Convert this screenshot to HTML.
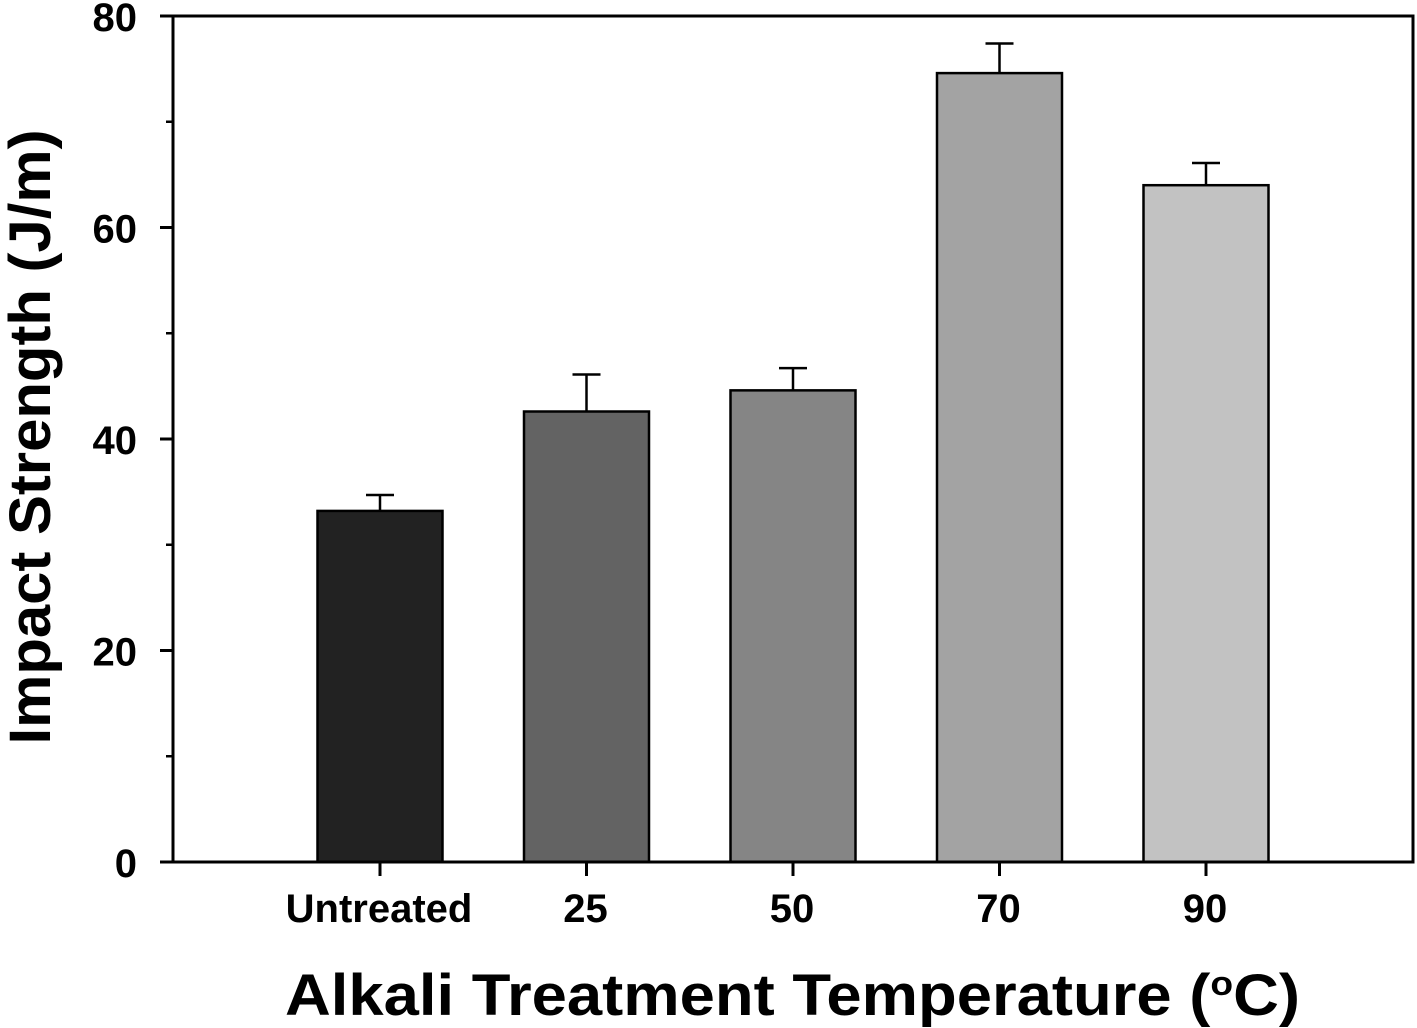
<!DOCTYPE html>
<html><head><meta charset="utf-8"><style>
html,body{margin:0;padding:0;background:#fff;}
svg{display:block;font-family:"Liberation Sans",Arial,sans-serif;font-weight:bold;}
</style></head><body>
<svg id="chart" width="1417" height="1028" viewBox="0 0 1417 1028">
<g id="plot"></g>
<text transform="translate(50,437) rotate(-90)" text-anchor="middle" font-size="58" textLength="615" lengthAdjust="spacingAndGlyphs">Impact Strength (J/m)</text>
<text x="285" y="1015" font-size="58" textLength="1015" lengthAdjust="spacingAndGlyphs">Alkali Treatment Temperature (<tspan font-size="34" dy="-20">o</tspan><tspan dy="20">C)</tspan></text>
</svg>
<script>
const categories = ["Untreated","25","50","70","90"];
const values = [33.2, 42.6, 44.6, 74.6, 64.0];
const errors = [1.5, 3.5, 2.1, 2.8, 2.1];
const colors = ["#222222","#636363","#858585","#a3a3a3","#c2c2c2"];
const yTicks = [0,20,40,60,80];
const yMinor = [10,30,50,70];

const NS="http://www.w3.org/2000/svg";
const g=document.getElementById('plot');
const L=173,R=1413,T=16,B=862,yMax=80;
const y=v=>B-(v/yMax)*(B-T);
const x=i=>380+206.5*i;
const bw=125;
function mk(t,a){const e=document.createElementNS(NS,t);for(const k in a)e.setAttribute(k,a[k]);g.appendChild(e);return e;}

categories.forEach((c,i)=>{
  const cx=x(i), top=y(values[i]), et=y(values[i]+errors[i]);
  const eb=mk('line',{x1:cx,x2:cx,y1:top,y2:et,stroke:'#000','stroke-width':2.5});
  
  
  const cap=mk('line',{x1:cx-14,x2:cx+14,y1:et,y2:et,stroke:'#000','stroke-width':2.5});
  
  
  const r=mk('rect',{x:cx-bw/2,y:top,width:bw,height:B-top,fill:colors[i],stroke:'#000','stroke-width':2.5});
  
  
  const tk=mk('line',{x1:cx,x2:cx,y1:B,y2:B+14,stroke:'#000','stroke-width':3});
  
  
  const lb=mk('text',{x:cx-1,y:922,'text-anchor':'middle','font-size':40});
  lb.textContent=c;
  
  
});
yTicks.forEach(v=>{
  const tk=mk('line',{x1:L-13,x2:L,y1:y(v),y2:y(v),stroke:'#000','stroke-width':3});
  
  
  const lb=mk('text',{x:L-36,y:y(v)+15,'text-anchor':'end','font-size':40});
  lb.textContent=v;
  
  
});
yMinor.forEach(v=>{
  const tk=mk('line',{x1:L-7,x2:L,y1:y(v),y2:y(v),stroke:'#000','stroke-width':2.5});
  
  
});
const frame=mk('rect',{x:L,y:T,width:R-L,height:B-T,fill:'none',stroke:'#000','stroke-width':3});


</script>
</body></html>
